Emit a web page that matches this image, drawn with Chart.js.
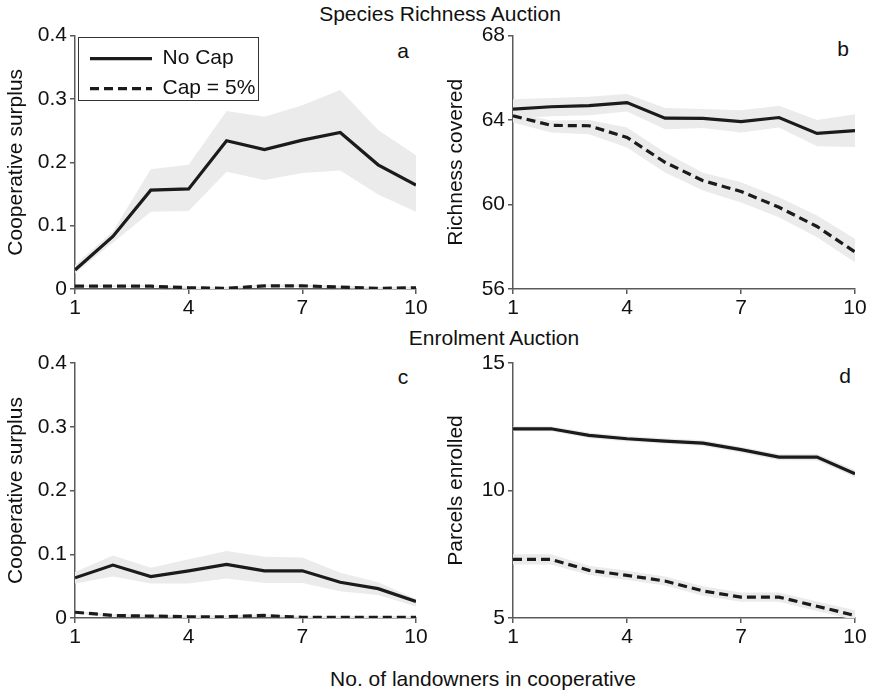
<!DOCTYPE html>
<html>
<head>
<meta charset="utf-8">
<script src="https://cdn.jsdelivr.net/npm/chart.js@4.4.1/dist/chart.umd.min.js"></script>
<style>
  html, body { margin: 0; padding: 0; background: #fff; }
  body { width: 872px; height: 690px; position: relative; overflow: hidden; font-family: "Liberation Sans", Arial, sans-serif; }
  canvas { position: absolute; }
  .txt { position: absolute; font-size: 21px; color: #111; white-space: nowrap; transform: translate(-50%, -50%); line-height: 1; }
</style>
</head>
<body>
<div class="txt" style="left:440px; top:13px;">Species Richness Auction</div>
<div class="txt" style="left:494px; top:337px;">Enrolment Auction</div>
<div class="txt" style="left:483px; top:678px;">No. of landowners in cooperative</div>
<div class="txt" style="left:403px; top:50px;">a</div>
<div class="txt" style="left:843px; top:48px;">b</div>
<div class="txt" style="left:403px; top:376px;">c</div>
<div class="txt" style="left:845px; top:375px;">d</div>

<canvas id="panelA" width="436" height="310" style="left:0px; top:20px;"></canvas>
<canvas id="panelB" width="436" height="310" style="left:436px; top:20px;"></canvas>
<canvas id="panelC" width="436" height="310" style="left:0px; top:345px;"></canvas>
<canvas id="panelD" width="436" height="310" style="left:436px; top:345px;"></canvas>

<script>
// ---------- data ----------
const landowners = [1, 2, 3, 4, 5, 6, 7, 8, 9, 10];
const xTickValues = [1, 4, 7, 10];
const surplusTicks = [0, 0.1, 0.2, 0.3, 0.4];
const richnessTicks = [56, 60, 64, 68];
const parcelTicks = [5, 10, 15];
const seriesNames = ['No Cap', 'Cap = 5%'];

// (a) Species richness auction – cooperative surplus
const richSurplusNoCap   = [0.030, 0.083, 0.156, 0.158, 0.234, 0.220, 0.235, 0.247, 0.196, 0.164];
const richSurplusNoCapHi = [0.038, 0.091, 0.189, 0.196, 0.281, 0.272, 0.290, 0.314, 0.251, 0.211];
const richSurplusNoCapLo = [0.025, 0.073, 0.122, 0.123, 0.185, 0.172, 0.183, 0.187, 0.149, 0.122];
const richSurplusCap     = [0.0045, 0.0045, 0.0045, 0.002, 0.001, 0.005, 0.005, 0.003, 0.001, 0.002];
const richSurplusCapHi   = [0.006, 0.006, 0.006, 0.004, 0.003, 0.007, 0.007, 0.005, 0.003, 0.004];
const richSurplusCapLo   = [0.003, 0.003, 0.003, 0.000, 0.000, 0.003, 0.003, 0.001, 0.000, 0.000];

// (b) Species richness auction – richness covered
const richCoveredNoCap   = [64.52, 64.63, 64.68, 64.83, 64.09, 64.08, 63.93, 64.12, 63.37, 63.50];
const richCoveredNoCapHi = [64.99, 65.04, 65.10, 65.23, 64.57, 64.52, 64.47, 64.68, 64.00, 64.28];
const richCoveredNoCapLo = [64.07, 64.18, 64.23, 64.40, 63.57, 63.63, 63.41, 63.65, 62.76, 62.72];
const richCoveredCap     = [64.20, 63.75, 63.73, 63.18, 62.00, 61.13, 60.62, 59.87, 58.96, 57.75];
const richCoveredCapHi   = [64.36, 63.98, 64.00, 63.65, 62.47, 61.50, 61.05, 60.34, 59.48, 58.38];
const richCoveredCapLo   = [63.89, 63.41, 63.33, 62.70, 61.52, 60.66, 60.10, 59.40, 58.45, 57.27];

// (c) Enrolment auction – cooperative surplus
const enrolSurplusNoCap   = [0.063, 0.083, 0.065, 0.074, 0.084, 0.074, 0.074, 0.056, 0.046, 0.026];
const enrolSurplusNoCapHi = [0.072, 0.098, 0.079, 0.092, 0.105, 0.096, 0.095, 0.071, 0.056, 0.030];
const enrolSurplusNoCapLo = [0.054, 0.065, 0.054, 0.054, 0.062, 0.055, 0.055, 0.042, 0.036, 0.018];
const enrolSurplusCap     = [0.009, 0.004, 0.003, 0.002, 0.002, 0.004, 0.001, 0.001, 0.001, 0.001];
const enrolSurplusCapHi   = [0.011, 0.006, 0.005, 0.004, 0.004, 0.006, 0.003, 0.003, 0.003, 0.003];
const enrolSurplusCapLo   = [0.007, 0.002, 0.001, 0.000, 0.000, 0.002, 0.000, 0.000, 0.000, 0.000];

// (d) Enrolment auction – parcels enrolled
const enrolParcelsNoCap   = [12.42, 12.42, 12.16, 12.03, 11.94, 11.86, 11.60, 11.31, 11.31, 10.66];
const enrolParcelsNoCapHi = [12.52, 12.52, 12.27, 12.14, 12.05, 11.97, 11.72, 11.43, 11.44, 10.80];
const enrolParcelsNoCapLo = [12.32, 12.32, 12.05, 11.92, 11.83, 11.75, 11.48, 11.19, 11.18, 10.52];
const enrolParcelsCap     = [7.30, 7.30, 6.87, 6.67, 6.45, 6.06, 5.82, 5.82, 5.46, 5.10];
const enrolParcelsCapHi   = [7.50, 7.50, 7.05, 6.85, 6.63, 6.25, 6.00, 6.00, 5.65, 5.30];
const enrolParcelsCapLo   = [7.10, 7.10, 6.69, 6.49, 6.27, 5.87, 5.64, 5.64, 5.27, 4.92];

// ---------- styling ----------
const FONT = '"Liberation Sans", Arial, sans-serif';
const FS = 21;
const LINE = '#1b1b1b';
const BAND = '#ebebeb';
const AXIS = '#5a5a5a';
const TEXT = '#111111';
const DASH = [9, 5];

function pts(arr) { return landowners.map((x, i) => ({ x: x, y: arr[i] })); }

const legendBoxPlugin = {
  id: 'legendBox',
  afterLayout(chart) {
    const lg = chart.legend;
    if (!lg || !lg.options.display) return;
    const ca = chart.chartArea;
    const h = lg.height, w = lg.width;
    lg.left = ca.left + 6;
    lg.top = ca.top + 3.5;
    lg.right = lg.left + w;
    lg.bottom = lg.top + h;
  },
  afterDraw(chart) {
    const lg = chart.legend;
    if (!lg || !lg.options.display || !lg.legendHitBoxes || !lg.legendHitBoxes.length) return;
    const boxes = lg.legendHitBoxes;
    const ctx = chart.ctx;
    const left = chart.chartArea.left + 3;
    const top = chart.chartArea.top + 1;
    let right = 0, bottom = 0;
    boxes.forEach(b => { right = Math.max(right, b.left + b.width); bottom = Math.max(bottom, b.top + b.height); });
    ctx.save();
    ctx.strokeStyle = '#333';
    ctx.lineWidth = 1;
    ctx.strokeRect(Math.round(left) + 0.5, Math.round(top) + 0.5, Math.round(right + 3 - left), Math.round(bottom + 1 - top));
    ctx.restore();
  }
};

function legendLabels(chart) {
  const items = Chart.defaults.plugins.legend.labels.generateLabels(chart);
  return items.map(it => {
    const ds = chart.data.datasets[it.datasetIndex];
    it.lineDash = ds.borderDash || [];
    it.lineWidth = ds.borderWidth;
    it.strokeStyle = ds.borderColor;
    return it;
  });
}

function makePanel(id, cfg) {
  const datasets = [
    { label: seriesNames[0], data: pts(cfg.noCap), borderColor: LINE, borderWidth: 3.2, pointRadius: 0, fill: false, tension: 0 },
    { label: seriesNames[1], data: pts(cfg.cap), borderColor: LINE, borderWidth: 3.2, borderDash: DASH, pointRadius: 0, fill: false, tension: 0 },
    { label: 'noCapHi', data: pts(cfg.noCapHi), borderWidth: 0, borderColor: 'rgba(0,0,0,0)', pointRadius: 0, fill: false, tension: 0 },
    { label: 'noCapLo', data: pts(cfg.noCapLo), borderWidth: 0, borderColor: 'rgba(0,0,0,0)', backgroundColor: BAND, pointRadius: 0, fill: '-1', tension: 0 },
    { label: 'capHi', data: pts(cfg.capHi), borderWidth: 0, borderColor: 'rgba(0,0,0,0)', pointRadius: 0, fill: false, tension: 0 },
    { label: 'capLo', data: pts(cfg.capLo), borderWidth: 0, borderColor: 'rgba(0,0,0,0)', backgroundColor: BAND, pointRadius: 0, fill: '-1', tension: 0 }
  ];
  return new Chart(document.getElementById(id), {
    type: 'line',
    data: { datasets: datasets },
    plugins: [legendBoxPlugin],
    options: {
      responsive: false,
      animation: false,
      events: [],
      layout: { padding: cfg.padding },
      plugins: {
        filler: { drawTime: 'beforeDatasetsDraw' },
        tooltip: { enabled: false },
        legend: {
          display: !!cfg.legend,
          position: 'chartArea',
          align: 'start',
          labels: {
            generateLabels: legendLabels,
            filter: item => item.datasetIndex < 2,
            usePointStyle: true,
            pointStyle: 'line',
            pointStyleWidth: 62,
            padding: 9,
            color: TEXT,
            font: { family: FONT, size: FS }
          }
        }
      },
      scales: {
        x: {
          type: 'linear',
          min: landowners[0],
          max: landowners[landowners.length - 1],
          afterBuildTicks: s => { s.ticks = xTickValues.map(v => ({ value: v })); },
          afterFit: s => { s.height = cfg.xAxisH; },
          grid: { drawOnChartArea: false, drawTicks: true, tickLength: 5, color: AXIS, lineWidth: 1.5 },
          border: { display: true, color: AXIS, width: 1.5 },
          ticks: { color: TEXT, font: { family: FONT, size: FS }, padding: 2, maxRotation: 0, autoSkip: false, callback: v => String(v) }
        },
        y: {
          min: cfg.yTicks[0],
          max: cfg.yTicks[cfg.yTicks.length - 1],
          afterBuildTicks: s => { s.ticks = cfg.yTicks.map(v => ({ value: v })); },
          afterFit: s => { s.width = cfg.yAxisW; },
          grid: { drawOnChartArea: false, drawTicks: true, tickLength: 5, color: AXIS, lineWidth: 1.5 },
          border: { display: true, color: AXIS, width: 1.5 },
          ticks: { color: TEXT, font: { family: FONT, size: FS }, padding: 3, autoSkip: false, callback: v => String(v) },
          title: { display: true, text: cfg.yTitle, color: TEXT, font: { family: FONT, size: FS }, padding: { top: cfg.titlePad, bottom: 0 } }
        }
      }
    }
  });
}

makePanel('panelA', {
  noCap: richSurplusNoCap, noCapHi: richSurplusNoCapHi, noCapLo: richSurplusNoCapLo,
  cap: richSurplusCap, capHi: richSurplusCapHi, capLo: richSurplusCapLo,
  yTicks: surplusTicks, yTitle: 'Cooperative surplus', legend: true,
  padding: { left: 0, top: 15, right: 20, bottom: 5 }, xAxisH: 36, yAxisW: 75, titlePad: 3.5
});
makePanel('panelB', {
  noCap: richCoveredNoCap, noCapHi: richCoveredNoCapHi, noCapLo: richCoveredNoCapLo,
  cap: richCoveredCap, capHi: richCoveredCapHi, capLo: richCoveredCapLo,
  yTicks: richnessTicks, yTitle: 'Richness covered', legend: false,
  padding: { left: 0, top: 15, right: 17, bottom: 5 }, xAxisH: 36, yAxisW: 77, titlePad: 7.4
});
makePanel('panelC', {
  noCap: enrolSurplusNoCap, noCapHi: enrolSurplusNoCapHi, noCapLo: enrolSurplusNoCapLo,
  cap: enrolSurplusCap, capHi: enrolSurplusCapHi, capLo: enrolSurplusCapLo,
  yTicks: surplusTicks, yTitle: 'Cooperative surplus', legend: false,
  padding: { left: 0, top: 18, right: 20, bottom: 1 }, xAxisH: 36, yAxisW: 75, titlePad: 3.5
});
makePanel('panelD', {
  noCap: enrolParcelsNoCap, noCapHi: enrolParcelsNoCapHi, noCapLo: enrolParcelsNoCapLo,
  cap: enrolParcelsCap, capHi: enrolParcelsCapHi, capLo: enrolParcelsCapLo,
  yTicks: parcelTicks, yTitle: 'Parcels enrolled', legend: false,
  padding: { left: 0, top: 18, right: 17, bottom: 1 }, xAxisH: 36, yAxisW: 77, titlePad: 7.4
});
</script>
</body>
</html>
